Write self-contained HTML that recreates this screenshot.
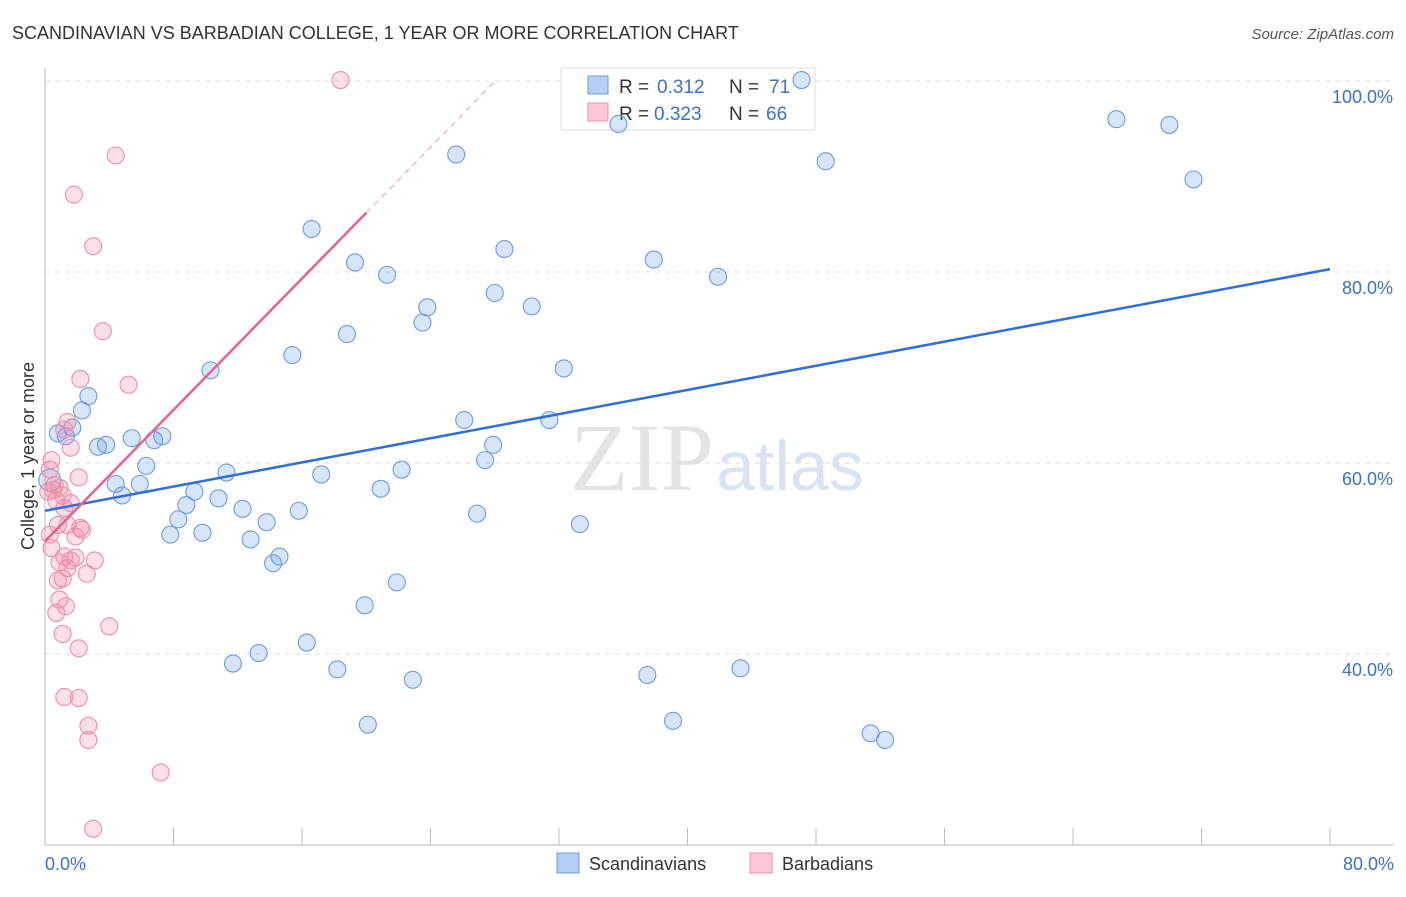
<!DOCTYPE html>
<html><head><meta charset="utf-8"><style>
body{margin:0;background:#fff;font-family:"Liberation Sans",sans-serif;}
</style></head><body>
<svg width="1406" height="892" xmlns="http://www.w3.org/2000/svg" font-family="Liberation Sans, sans-serif">
<text x="12" y="39" font-size="18" fill="#333">SCANDINAVIAN VS BARBADIAN COLLEGE, 1 YEAR OR MORE CORRELATION CHART</text>
<text x="1394" y="39" font-size="15" fill="#555" font-style="italic" text-anchor="end">Source: ZipAtlas.com</text>
<text x="714" y="490" font-size="96" fill="#e4e4e4" font-family="Liberation Serif, serif" text-anchor="end">ZIP</text>
<text x="716" y="490" font-size="70" fill="#d8e4f4">atlas</text>
<g id="grid"></g>
<g id="axes"></g>
<g>
<rect x="561" y="68" width="254" height="62" fill="#fff" stroke="#ddd"/>
<rect x="588" y="76" width="20" height="18" fill="#b6d0f3" stroke="#6d9be0"/>
<rect x="588" y="103" width="20" height="18" fill="#fac8d6" stroke="#ee8fab"/>
<text x="619" y="93" font-size="19" fill="#333">R =</text>
<text x="657" y="93" font-size="19" fill="#3b72c8">0.312</text>
<text x="729" y="93" font-size="19" fill="#333">N =</text>
<text x="769" y="93" font-size="19" fill="#3b72c8">71</text>
<text x="619" y="120" font-size="19" fill="#333">R =</text>
<text x="654" y="120" font-size="19" fill="#3b72c8">0.323</text>
<text x="729" y="120" font-size="19" fill="#333">N =</text>
<text x="766" y="120" font-size="19" fill="#3b72c8">66</text>
</g>
<g id="marks"></g>
<text transform="translate(34,456) rotate(-90)" font-size="18" fill="#333" text-anchor="middle">College, 1 year or more</text>
<text x="45" y="870" font-size="18" fill="#3b72c8">0.0%</text>
<text x="1394" y="870" font-size="18" fill="#3b72c8" text-anchor="end">80.0%</text>
<g>
<rect x="557" y="853" width="22" height="20" fill="#b6d0f3" stroke="#6d9be0"/>
<text x="589" y="870" font-size="18" fill="#333">Scandinavians</text>
<rect x="750" y="853" width="22" height="20" fill="#fac8d6" stroke="#ee8fab"/>
<text x="782" y="870" font-size="18" fill="#333">Barbadians</text>
</g>
</svg>
<script>
const blueX=[47.1,35.7,66.7,70.0,71.5,48.6,25.6,16.6,28.6,19.3,21.3,37.9,41.9,28.0,23.8,30.3,23.5,18.8,15.4,32.3,10.3,2.7,2.3,0.8,1.3,1.7,26.1,31.4,5.4,7.3,6.8,3.3,3.8,27.9,27.4,6.3,11.3,22.2,17.2,0.3,4.4,5.9,4.8,9.3,20.9,10.8,8.8,12.3,15.8,26.9,8.3,13.8,33.3,7.8,9.8,12.8,14.6,14.2,21.9,19.9,16.3,13.3,11.7,18.2,22.9,37.5,43.3,20.1,39.1,51.4,52.3];
const blueY=[100.1,95.5,96.0,95.4,89.7,91.6,92.3,84.5,82.4,81.0,79.7,81.3,79.5,77.8,76.3,76.4,74.7,73.5,71.3,69.9,69.7,67.0,65.5,63.1,62.8,63.7,64.5,64.5,62.6,62.8,62.4,61.7,61.9,61.9,60.3,59.7,59.0,59.3,58.8,58.2,57.8,57.8,56.6,57.0,57.3,56.3,55.6,55.2,55.0,54.7,54.1,53.8,53.6,52.5,52.7,52.0,50.2,49.5,47.5,45.1,41.2,40.1,39.0,38.4,37.3,37.8,38.5,32.6,33.0,31.7,31.0];
const pinkX=[18.4,4.4,1.8,3.0,3.6,5.2,2.2,1.4,1.2,1.6,0.4,2.1,0.3,0.6,0.5,0.9,0.2,1.1,0.7,1.6,1.2,0.8,1.4,2.2,2.3,0.3,1.9,0.4,3.1,1.2,1.6,1.9,1.4,0.9,2.6,0.8,1.1,0.9,1.3,0.7,4.0,1.1,2.1,1.2,2.1,2.7,2.7,7.2,3.0];
const pinkY=[100.1,92.2,88.1,82.7,73.8,68.2,68.8,64.3,63.5,61.6,60.3,58.5,59.3,57.7,57.2,57.4,57.0,56.6,56.1,55.8,55.3,53.5,53.5,53.2,53.0,52.5,52.3,51.1,49.8,50.2,49.8,50.1,49.0,49.6,48.4,47.7,47.9,45.7,45.0,44.3,42.9,42.1,40.6,35.5,35.4,32.5,31.0,27.6,21.7];
const blueLine=[55.0,80.3];
const pinkLine=[51.8,86.2];
const yTicks=[100,80,60,40];
const xTicks=[0,8,16,24,32,40,48,56,64,72,80];
const NS="http://www.w3.org/2000/svg";
const sx=v=>45+v*1285/80;
const sy=v=>463-(v-60)*9.55;
function mk(tag,attrs,parent){const e=document.createElementNS(NS,tag);for(const k in attrs)e.setAttribute(k,attrs[k]);document.getElementById(parent).appendChild(e);return e;}
yTicks.forEach(t=>{
 const l=mk('line',{x1:45,x2:1394,y1:sy(t),y2:sy(t),stroke:'#ddd','stroke-dasharray':'5,5'},'grid');
 
 
 const tx=mk('text',{x:1393,y:sy(t)+22,'font-size':18,fill:'#3b72c8','text-anchor':'end'},'grid');
 tx.textContent=t.toFixed(1)+'%';
 
 
});
const ax=mk('line',{x1:45,x2:1394,y1:845,y2:845,stroke:'#bbb'},'axes');


const ay=mk('line',{x1:45,x2:45,y1:68,y2:845,stroke:'#bbb'},'axes');


xTicks.forEach(t=>{
 const l=mk('line',{x1:sx(t),x2:sx(t),y1:828,y2:845,stroke:'#bbb'},'axes');
 
 
});
blueX.forEach((x,i)=>{
 const c=mk('circle',{cx:sx(x),cy:sy(blueY[i]),r:(i==39?11:8.5),fill:'rgba(110,160,235,0.28)',stroke:'#6d9be0','stroke-width':1.1},'marks');
 
 
});
pinkX.forEach((x,i)=>{
 const c=mk('circle',{cx:sx(x),cy:sy(pinkY[i]),r:8.5,fill:'rgba(245,140,170,0.28)',stroke:'#ee8fab','stroke-width':1.1},'marks');
 
 
});
const bl=mk('line',{x1:sx(0),y1:sy(blueLine[0]),x2:sx(80),y2:sy(blueLine[1]),stroke:'#2f6fd6','stroke-width':2.5},'marks');


const slope=(pinkLine[1]-pinkLine[0])/20;
const pl=mk('line',{x1:sx(0),y1:sy(pinkLine[0]),x2:sx(20),y2:sy(pinkLine[1]),stroke:'#e8628b','stroke-width':2.5},'marks');


const pd=mk('line',{x1:sx(20),y1:sy(pinkLine[1]),x2:sx(28),y2:sy(pinkLine[0]+slope*28),stroke:'#f0a8bd','stroke-width':1.2,'stroke-dasharray':'6,5'},'marks');


</script>
</body></html>
